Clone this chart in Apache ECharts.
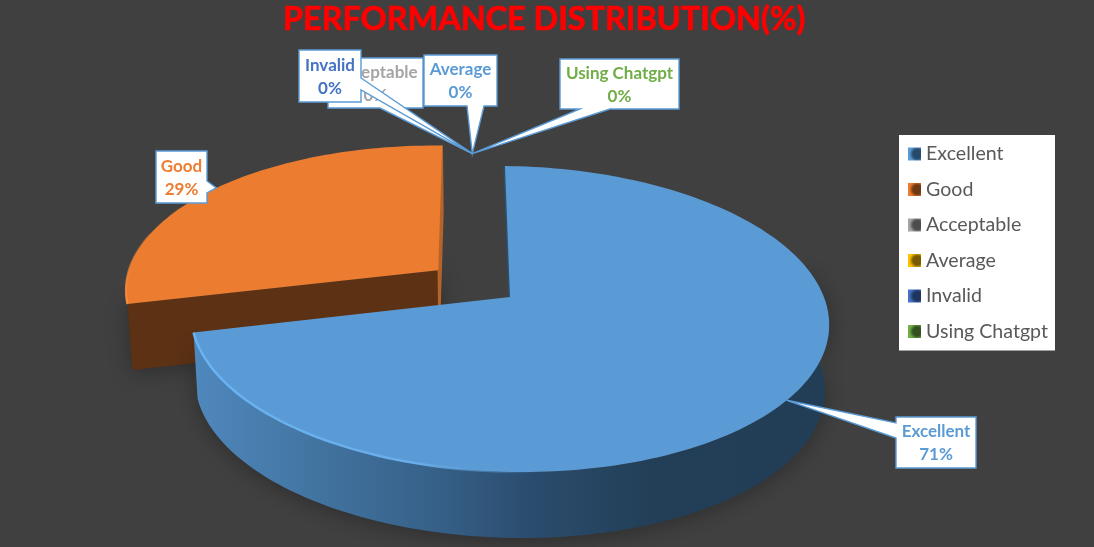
<!DOCTYPE html>
<html><head><meta charset="utf-8">
<style>html,body{margin:0;padding:0;background:#404040}#c{width:1094px;height:547px}</style>
<script src="https://cdn.jsdelivr.net/npm/echarts@6/dist/echarts.min.js"></script>
</head><body><div id="c"></div>
<script>
const categories = ['Excellent','Good','Acceptable','Average','Invalid','Using Chatgpt'];
const values = [71,29,0,0,0,0];
const titleText = 'PERFORMANCE DISTRIBUTION(%)';

const faceColors = ['#5b9bd5','#eb7c30','#a5a5a5','#ffc000','#4472c4','#70ad47'];
const labelColors = ['#5b9bd5','#ed7d31','#a5a5a5','#5b9bd5','#4472c4','#70ad47'];
const iconDark = ['#27496b','#6e3a14','#4d4d4d','#7a5c00','#1f3560','#33521f'];
const explode = [0,0.29,0,0,0,0];
const seriesZ = [3,2,4,5,6,7];

// callout layout: box [x0,y0,x1,y1], side the pointer leaves from, pointer base along that side
const callouts = [
  {box:[896,417,976,468], side:'left',   base:[423,438]},
  {box:[156,151,207,203], side:'right',  base:[181,193]},
  {box:[328,58,423,108],  side:'bottom', base:[380,397]},
  {box:[424,55,497,106],  side:'bottom', base:[467,484]},
  {box:[299,50,361,102],  side:'right',  base:[78,90]},
  {box:[560,59,679,109],  side:'bottom', base:[580,610]}
];
const zeroAnchor = {X:-0.118, Z:1.107};

// perspective projection of the pie plane
const P = {cx:510, cy:297, aLeft:316.5, aRight:315, b:67.6, c:-107.1, q:0.1438, roll:3, depth:66, vx:500, shrink:0.987};
function proj(X,Z){
  const w = 1+P.q*Z, a = X<0 ? P.aLeft : P.aRight;
  return [(P.cx+a*X+P.b*Z)/w, (P.cy+P.c*Z+P.roll*X)/w];
}
function lower(p){ return [P.vx+(p[0]-P.vx)*P.shrink, p[1]+P.depth]; }

const total = values.reduce((s,v)=>s+v,0);
function angles(i){
  let s=0; for(let k=0;k<i;k++) s+=values[k];
  const a0=s/total*Math.PI*2, a1=(s+values[i])/total*Math.PI*2;
  return [a0,a1];
}
function centre(i){
  const [a0,a1]=angles(i), m=(a0+a1)/2, d=explode[i];
  return {X:d*Math.sin(m), Z:d*Math.cos(m)};
}
function rimPt(i,t){ const c=centre(i); return proj(c.X+Math.sin(t), c.Z+Math.cos(t)); }
function arc(i,from,to){
  const n=Math.max(2,Math.ceil(Math.abs(to-from)/(Math.PI/120))), pts=[];
  for(let k=0;k<=n;k++) pts.push(rimPt(i,from+(to-from)*k/n));
  return pts;
}
function calloutElems(i,value){
  const L=callouts[i], [x0,y0,x1,y1]=L.box;
  let tip;
  if(value>0){ const [a0,a1]=angles(i); tip=rimPt(i,(a0+a1)/2); }
  else tip=proj(zeroAnchor.X,zeroAnchor.Z);
  let pts;
  if(L.side==='left') pts=[[x0,y0],[x1,y0],[x1,y1],[x0,y1],[x0,L.base[1]],tip,[x0,L.base[0]]];
  else if(L.side==='right') pts=[[x0,y0],[x1,y0],[x1,L.base[0]],tip,[x1,L.base[1]],[x1,y1],[x0,y1]];
  else pts=[[x0,y0],[x1,y0],[x1,y1],[L.base[1],y1],tip,[L.base[0],y1],[x0,y1]];
  const pct=Math.round(value/total*100)+'%';
  return [
    {type:'polygon',shape:{points:pts},style:{fill:'#fff',stroke:'#5b9bd5',lineWidth:1.4}},
    {type:'text',x:(x0+x1)/2,y:(y0+y1)/2+1,style:{text:categories[i]+'\n'+pct,fill:labelColors[i],
      font:'bold 17px Lato',lineHeight:23,align:'center',verticalAlign:'middle'}}
  ];
}
const stops=st=>st.map(s=>({offset:s[0],color:s[1]}));
const grad=(x0,y0,x1,y1,st)=>new echarts.graphic.LinearGradient(x0,y0,x1,y1,stops(st),true);

function renderItem(params,api){
  const i=params.seriesIndex, value=api.value(0), children=[];
  const [a0,a1]=angles(i);
  if(value>0){
    const c=proj(centre(i).X,centre(i).Z), top=arc(i,a0,a1), first=top[0], last=top[top.length-1];
    const shadow={shadowBlur:22,shadowColor:'rgba(0,0,0,0.3)',shadowOffsetY:3};
    if(i===0){
      const from=Math.PI*0.42;
      const f=arc(i,from,a1), bot=f.map(lower).reverse();
      children.push({type:'polygon',shape:{points:f.concat(bot)},style:Object.assign({
        fill:grad(195,0,830,0,[[0,'#4f88bd'],[0.2,'#41739f'],[0.4,'#355e85'],[0.53,'#2a4c6d'],[0.72,'#233f57'],[1,'#223e56']])},shadow)});
      children.push({type:'polyline',shape:{points:[first,c]},style:{fill:'none',stroke:'#2a5070',lineWidth:3}});
    } else {
      children.push({type:'polygon',shape:{points:[first,c,lower(c),lower(first)]},style:Object.assign({fill:'#5c3114'},shadow)});
      children.push({type:'polygon',shape:{points:[last,c,lower(c),lower(last)]},style:{fill:'#b5642a',stroke:'#b5642a',lineWidth:1.5}});
    }
    children.push({type:'polygon',shape:{points:[c].concat(top)},style:{fill:faceColors[i]}});
    if(i===0){
      const rim=arc(i,Math.PI*0.95,a1);
      children.push({type:'polyline',shape:{points:rim},style:{fill:'none',lineWidth:2.4,
        stroke:grad(540,0,195,0,[[0,'rgba(91,155,213,0)'],[0.35,'#6aaee9'],[1,'#68b4f5']])}});
    } else {
      const rim=arc(i,a0,a0+0.5);
      children.push({type:'polyline',shape:{points:rim},style:{fill:'none',lineWidth:2,
        stroke:grad(0,300,0,220,[[0,'#f98f3e'],[1,'rgba(237,125,49,0)']])}});
    }
  }
  return {type:'group',children:children.concat(calloutElems(i,value))};
}

const chart=echarts.init(document.getElementById('c'),null,{renderer:'canvas'});
chart.setOption({
  backgroundColor:'#404040',
  animation:false,
  title:{text:titleText,left:278,top:-1,
    textStyle:{color:'#ff0000',fontFamily:'Lato',fontWeight:'bold',fontSize:32.4,textBorderColor:'#ff0000',textBorderWidth:0.7}},
  legend:{orient:'vertical',left:899,top:135,padding:[8,7,8,9],itemWidth:13,itemHeight:13,itemGap:13.5,
    backgroundColor:'#fff',selectedMode:false,
    textStyle:{color:'#595959',fontFamily:'Lato',fontSize:19.6,lineHeight:22},
    data:categories.map((n,i)=>({name:n,icon:'rect',itemStyle:{
      color:new echarts.graphic.RadialGradient(0.72,0.5,0.62,stops([[0,iconDark[i]],[0.55,iconDark[i]],[1,faceColors[i]]]))}}))},
  series:categories.map((n,i)=>({
    type:'custom',name:n,coordinateSystem:'none',z:seriesZ[i],silent:true,
    renderItem,data:[[values[i]]],encode:{value:0}
  }))
});
</script></body></html>
